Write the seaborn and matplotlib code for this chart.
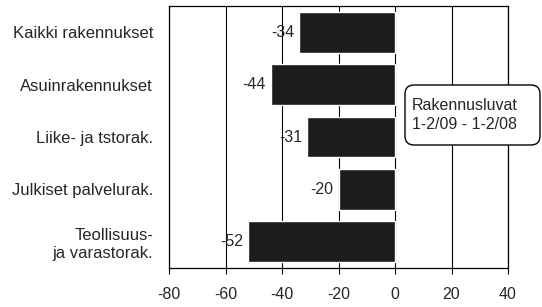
import numpy as np
import seaborn as sns
import matplotlib.pyplot as plt
from matplotlib.patches import FancyBboxPatch
from matplotlib.transforms import IdentityTransform

# Data
categories = ["Kaikki rakennukset", "Asuinrakennukset", "Liike- ja tstorak.",
              "Julkiset palvelurak.", "Teollisuus-\nja varastorak."]
values = [-34, -44, -31, -20, -52]
x_ticks = [-80, -60, -40, -20, 0, 20, 40]
box_lines = ["Rakennusluvat", "1-2/09 - 1-2/08"]

sns.set_style("white")
plt.rcParams['font.family'] = ['Liberation Sans', 'DejaVu Sans']
plt.rcParams['axes.unicode_minus'] = False

fig = plt.figure(figsize=(5.42, 3.07), dpi=100)
ax = fig.add_axes([169 / 542, 1 - 268 / 307, (508 - 169) / 542, (268 - 6) / 307])

sns.barplot(x=values, y=categories, orient="h", color="#1c1c1c",
            saturation=1, width=0.78, ax=ax, zorder=3)

ax.bar_label(ax.containers[0], padding=3.5, fontsize=11.5)

# axes look
ax.set_xlim(-80, 40)
ax.set_xticks(x_ticks)
ax.xaxis.grid(True, color="black", lw=0.8)
ax.set_axisbelow(True)
for s in ax.spines.values():
    s.set_color("black")
    s.set_linewidth(0.9)
ax.tick_params(axis="x", bottom=True, length=4, width=0.8, color="black",
               labelsize=11.5, pad=10)
ax.tick_params(axis="y", left=False, labelsize=12, pad=8)
ax.set_xlabel("")
ax.set_ylabel("")

# Legend-like rounded box
box = FancyBboxPatch((405, 162), 135, 60, boxstyle="round,pad=0,rounding_size=9",
                     transform=IdentityTransform(), facecolor="white",
                     edgecolor="black", lw=1.0, zorder=10)
fig.patches.append(box)
fig.text(412 / 542, 1 - 115 / 307, "\n".join(box_lines), ha="left", va="center",
         fontsize=11.5, linespacing=1.4, zorder=11)

fig.savefig("out.png", dpi=100)
